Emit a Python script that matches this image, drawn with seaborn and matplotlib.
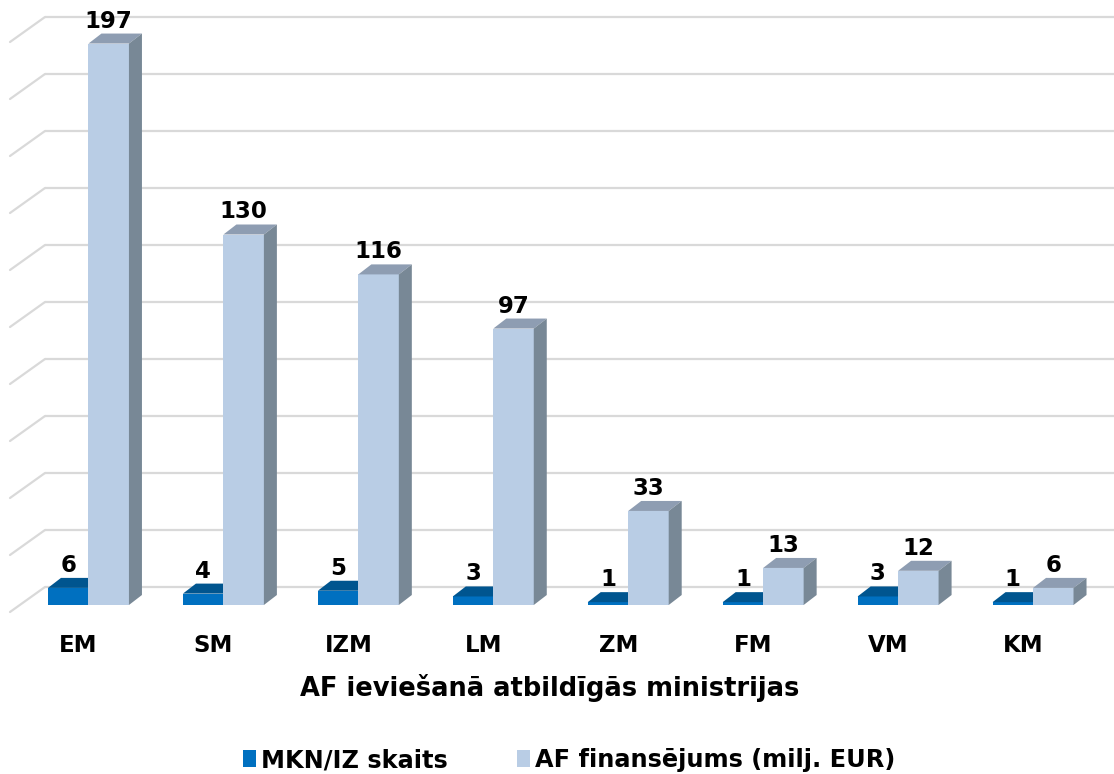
#!/usr/bin/env python3
import matplotlib
matplotlib.use("Agg")
import matplotlib.pyplot as plt
import matplotlib.transforms as mtransforms
from matplotlib.patches import Polygon, Patch
import seaborn as sns
import pandas as pd

# Data
ministries = ["EM", "SM", "IZM", "LM", "ZM", "FM", "VM", "KM"]
mkn_count = [6, 4, 5, 3, 1, 1, 3, 1]
af_funding = [197, 130, 116, 97, 33, 13, 12, 6]
series_names = ["MKN/IZ skaits", "AF finansējums (milj. EUR)"]
axis_title = "AF ieviešanā atbildīgās ministrijas"

DARK = "#0070C0"
DARK_TOP = "#00558F"
LIGHT = "#B9CDE5"
LIGHT_TOP = "#8E9DB2"
LIGHT_SIDE = "#788896"
GRID = "#D9D9D9"

W, H, DPI = 1114, 774, 100
YMAX = 210
XMIN, XMAX = -0.5, 7.6
# axes placement in pixels
AX_LEFT, AX_BOTTOM_PX = 21, 605
AX_RIGHT = 1114

df = pd.DataFrame({
    "ministry": ministries * 2,
    "value": mkn_count + af_funding,
    "series": [series_names[0]] * len(ministries) + [series_names[1]] * len(ministries),
})

sns.set_style("white")
plt.rcParams["font.family"] = ["DejaVu Sans"]
plt.rcParams["text.color"] = "black"
plt.rcParams["xtick.color"] = "black"

fig = plt.figure(figsize=(W / DPI, H / DPI), dpi=DPI)
ax_w_px = AX_RIGHT - AX_LEFT
px_x = ax_w_px / (XMAX - XMIN)
px_y = 2.85
ax_h_px = YMAX * px_y
ax = fig.add_axes([AX_LEFT / W, (H - AX_BOTTOM_PX) / H, ax_w_px / W, ax_h_px / H])

sns.barplot(data=df, x="ministry", y="value", hue="series", order=ministries,
            hue_order=series_names, palette=[DARK, LIGHT], saturation=1,
            width=0.6, legend=False, ax=ax, linewidth=0, edgecolor="none")
ax.set_xlim(XMIN, XMAX)
ax.set_ylim(0, YMAX)

def dxp(p):
    return p / px_x

def dyp(p):
    return p / px_y

# back wall gridlines with diagonal side-wall segments
for v in range(0, 201, 20):
    yb = v + dyp(18)
    yf = v - dyp(7)
    xb = XMIN + dxp(45 - AX_LEFT)
    xf = XMIN + dxp(10 - AX_LEFT)
    ax.plot([xb, XMAX + 1], [yb, yb], color=GRID, lw=1.6, zorder=0, clip_on=False,
            solid_capstyle="butt")
    ax.plot([xf, xb], [yf, yb], color=GRID, lw=1.6, zorder=0, clip_on=False)

# fake 3D faces on the bars
ddx, ddy = dxp(13), dyp(10)
n = len(ministries)
bars = [p for p in ax.patches if p.get_height() > 0]
for i, bar in enumerate(bars):
    x0 = bar.get_x()
    x1 = x0 + bar.get_width()
    h = bar.get_height()
    light = i >= n
    bar.set_zorder(3 if light else 2)
    top = Polygon([(x0, h), (x1, h), (x1 + ddx, h + ddy), (x0 + ddx, h + ddy)],
                  closed=True, facecolor=LIGHT_TOP if light else DARK_TOP,
                  edgecolor="none", zorder=3 if light else 2, clip_on=False)
    ax.add_patch(top)
    if light:
        side = Polygon([(x1, 0), (x1 + ddx, ddy), (x1 + ddx, h + ddy), (x1, h)],
                       closed=True, facecolor=LIGHT_SIDE, edgecolor="none",
                       zorder=3, clip_on=False)
        ax.add_patch(side)
    ax.text(x0 + bar.get_width() / 2, h + dyp(16), f"{int(h)}", ha="center",
            va="baseline", fontsize=16.5, fontweight="bold", color="black",
            zorder=5, clip_on=False)

for s in ax.spines.values():
    s.set_visible(False)
ax.set_yticks([])
ax.set_xlabel("")
ax.set_ylabel("")
ax.set_xticks(range(n))
ax.set_xticklabels(ministries, fontsize=16.5, fontweight="bold")
ax.tick_params(axis="x", length=0, pad=21)
shift = mtransforms.ScaledTranslation(-10 / DPI, 0, fig.dpi_scale_trans)
for lab in ax.get_xticklabels():
    lab.set_transform(lab.get_transform() + shift)

fig.text(550 / W, (H - 688) / H, axis_title, ha="center", va="center",
         fontsize=18.5, fontweight="bold")

handles = [Patch(facecolor=DARK, edgecolor="none"), Patch(facecolor=LIGHT, edgecolor="none")]
fig.legend(handles, series_names, loc="center", bbox_to_anchor=(569 / W, (H - 760) / H),
           ncol=2, frameon=False, handlelength=0.55, handleheight=0.75,
           handletextpad=0.2, columnspacing=2.9,
           prop={"size": 17.3, "weight": "bold"})

fig.savefig("out.png", dpi=DPI)
